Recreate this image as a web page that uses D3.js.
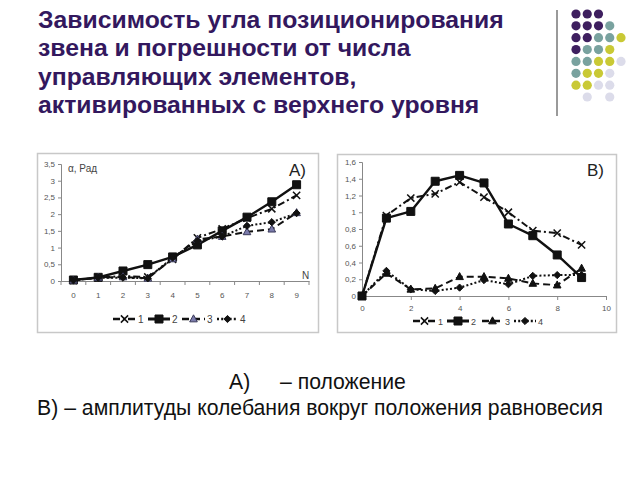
<!DOCTYPE html>
<html><head><meta charset="utf-8">
<script src="https://cdn.jsdelivr.net/npm/d3@7"></script>
<style>body{margin:0;background:#fff}svg{display:block}</style>
</head><body>
<svg id="c" width="640" height="480"></svg>
<script>
// ---------- data ----------
const titleLines = ["Зависимость угла позиционирования","звена и погрешности от числа","управляющих элементов,","активированных с верхнего уровня"];
const captionA = ["А)", "– положение"];
const captionB = "В) – амплитуды колебания вокруг положения равновесия";
const seriesNames = ["1","2","3","4"];
const categoriesA = [0,1,2,3,4,5,6,7,8,9];
const a1 = [0.02,0.10,0.15,0.12,0.65,1.29,1.56,1.88,2.16,2.56];
const a2 = [0.03,0.11,0.30,0.49,0.72,1.08,1.50,1.91,2.37,2.88];
const a3 = [0.02,0.10,0.12,0.08,0.66,1.25,1.33,1.47,1.55,2.04];
const a4 = [0.02,0.10,0.10,0.08,0.70,1.20,1.33,1.65,1.76,2.03];
const yTicksA = [0,0.5,1,1.5,2,2.5,3,3.5];
const xB = [0,1,2,3,4,5,6,7,8,9];
const b1 = [0.00,0.96,1.17,1.22,1.36,1.18,1.00,0.78,0.75,0.61];
const b2 = [0.00,0.93,1.01,1.37,1.44,1.35,0.86,0.72,0.49,0.22];
const b3 = [0.00,0.27,0.08,0.09,0.23,0.23,0.21,0.15,0.13,0.33];
const b4 = [0.00,0.30,0.08,0.06,0.10,0.19,0.14,0.24,0.25,0.25];
const yTicksB = [0,0.2,0.4,0.6,0.8,1,1.2,1.4,1.6];
const xTicksB = [0,2,4,6,8,10];
// decorative dot grid: rows of colour codes (p=purple,t=teal,y=yellow,l=lavender, .=empty)
const dotRows = ["ppp","pppt","pptty","ptty","ttyyl","tyyl","yyll",".l.l"];
const dotColors = {p:"#3e1f5f",t:"#79a29f",y:"#c9c935",l:"#dcdcea"};

// ---------- drawing ----------
const svg = d3.select("#c");
const fmt = v => String(v).replace(".", ",");
const font = "Liberation Sans, Arial, sans-serif";

function fit(sel, target){
  const fs = parseFloat(sel.attr("font-size"));
  const w = sel.node().getComputedTextLength();
  sel.attr("font-size", (fs*target/w).toFixed(2));
}

// title
const tl = svg.append("g");
titleLines.forEach((t,i)=>{
  const s = tl.append("text").attr("x",38).attr("y",28+i*28.4)
    .attr("font-family",font).attr("font-weight","bold").attr("font-size",24)
    .attr("fill","#33185e").text(t);
  if(i===0) fit(s,466);
});
const tfs = tl.select("text").attr("font-size");
tl.selectAll("text").attr("font-size",tfs);

// decorative
svg.append("line").attr("x1",557).attr("x2",557).attr("y1",10).attr("y2",116)
  .attr("stroke","#9a9a9a").attr("stroke-width",2);
const colX = d3.scaleLinear().domain([0,4]).range([576,621]);
const rowY = d3.scaleLinear().domain([0,7]).range([14,97]);
dotRows.forEach((row,r)=>{
  row.split("").forEach((c,k)=>{
    if(c===".") return;
    svg.append("circle").attr("cx",colX(k)).attr("cy",rowY(r)).attr("r",4.6).attr("fill",dotColors[c]);
  });
});

// marker paths
const mk = {
  x: s=>`M${-s},${-s}L${s},${s}M${-s},${s}L${s},${-s}`,
  sq: s=>`M${-s},${-s}H${s}V${s}H${-s}Z`,
  tri: s=>`M0,${-s*1.1}L${s},${s*0.75}L${-s},${s*0.75}Z`,
  dia: s=>`M0,${-s}L${s},0L0,${s}L${-s},0Z`
};
function styles(panel){
  return [
    {dash:"7,3,2,3", w:2, m:"x", size:3.6, fill:"none", mstroke:"#111", mw:1.5},
    {dash:null, w:2.4, m:"sq", size:4, fill:"#111", mstroke:"#111", mw:1},
    {dash:"7,4", w:2, m:"tri", size:3.8, fill: panel==="A"?"#7b7bab":"#111", mstroke: panel==="A"?"#3a3a5a":"#111", mw:1},
    {dash:"2,2.2", w:2, m:"dia", size:3.6, fill:"#111", mstroke:"#111", mw:1}
  ];
}

function drawSeries(g, data, xf, yf, st){
  const line = d3.line().x((d,i)=>xf(i)).y(d=>yf(d));
  g.append("path").datum(data).attr("d",line).attr("fill","none")
    .attr("stroke","#111").attr("stroke-width",st.w)
    .attr("stroke-dasharray",st.dash).attr("stroke-linejoin","round");
  g.selectAll(null).data(data).join("path")
    .attr("transform",(d,i)=>`translate(${xf(i)},${yf(d)})`)
    .attr("d",mk[st.m](st.size)).attr("fill",st.fill)
    .attr("stroke",st.mstroke).attr("stroke-width",st.mw);
}

function legend(g, y, items, st, fs){
  items.forEach((it,i)=>{
    const s = st[i];
    g.append("line").attr("x1",it[0]).attr("x2",it[1]).attr("y1",y).attr("y2",y)
      .attr("stroke","#111").attr("stroke-width",s.w+0.6).attr("stroke-dasharray",s.dash);
    g.append("path").attr("transform",`translate(${(it[0]+it[1])/2},${y})`)
      .attr("d",mk[s.m](s.size)).attr("fill",s.fill).attr("stroke",s.mstroke).attr("stroke-width",s.mw);
    g.append("text").attr("x",it[1]+2).attr("y",y+3.5).attr("font-family",font)
      .attr("font-size",fs).attr("fill","#444").text(seriesNames[i]);
  });
}

// ---------- Panel A ----------
const gA = svg.append("g");
gA.append("rect").attr("x",37.5).attr("y",153.5).attr("width",281).attr("height",179)
  .attr("fill","#fff").attr("stroke","#c8c8c8").attr("stroke-width",1.5);
const xA = d3.scaleBand().domain(categoriesA).range([61,309]);
const xAc = i => xA(categoriesA[i]) + xA.bandwidth()/2;
const yA = d3.scaleLinear().domain([0,3.5]).range([281,164]);
const axYA = gA.append("g").attr("transform","translate(61,0)")
  .call(d3.axisLeft(yA).tickValues(yTicksA).tickSize(3).tickFormat(fmt));
const axXA = gA.append("g").attr("transform","translate(0,281)")
  .call(d3.axisBottom(xA).tickSize(0).tickPadding(11));
// tick marks between categories
gA.selectAll(null).data(d3.range(categoriesA.length+1)).join("line")
  .attr("x1",d=>61+d*xA.step()).attr("x2",d=>61+d*xA.step()).attr("y1",281).attr("y2",285)
  .attr("stroke","#888");
[axYA,axXA].forEach(a=>{
  a.selectAll("path,line").attr("stroke","#888");
  a.selectAll("text").attr("font-family",font).attr("font-size",8).attr("fill","#555");
});
gA.append("text").attr("x",68).attr("y",171.5).attr("font-family",font).attr("font-size",10).attr("fill","#444").text("α, Рад");
gA.append("text").attr("x",302).attr("y",279).attr("font-family",font).attr("font-size",10).attr("fill","#444").text("N");
gA.append("text").attr("x",289).attr("y",176).attr("font-family",font).attr("font-size",17).attr("fill","#222").text("A)");
const stA = styles("A");
[a1,a2,a3,a4].forEach((d,i)=>drawSeries(gA,d,xAc,yA,stA[i]));
legend(gA,319,[[113,136],[148,170],[182,205],[217,238]],stA,10);

// ---------- Panel B ----------
const gB = svg.append("g");
gB.append("rect").attr("x",337.5).attr("y",154.5).attr("width",279).attr("height",178)
  .attr("fill","#fff").attr("stroke","#c8c8c8").attr("stroke-width",1.5);
const xBs = d3.scaleLinear().domain([0,10]).range([362,606]);
const yB = d3.scaleLinear().domain([0,1.6]).range([296,162]);
const axYB = gB.append("g").attr("transform","translate(362,0)")
  .call(d3.axisLeft(yB).tickValues(yTicksB).tickSize(3).tickFormat(fmt));
const axXB = gB.append("g").attr("transform","translate(0,296)")
  .call(d3.axisBottom(xBs).tickValues(xTicksB).tickSize(4).tickPadding(5).tickFormat(fmt));
[axYB,axXB].forEach(a=>{
  a.selectAll("path,line").attr("stroke","#888");
  a.selectAll("text").attr("font-family",font).attr("font-size",8).attr("fill","#555");
});
gB.append("text").attr("x",587).attr("y",176).attr("font-family",font).attr("font-size",17).attr("fill","#222").text("B)");
const stB = styles("B");
[b1,b2,b3,b4].forEach((d,i)=>drawSeries(gB,d,i2=>xBs(xB[i2]),yB,stB[i]));
legend(gB,321,[[413,436],[447,469],[482,503],[514,536]],stB,9);

// ---------- captions ----------
const c2 = svg.append("text").attr("x",320).attr("y",415).attr("text-anchor","middle")
  .attr("font-family",font).attr("font-size",19).attr("fill","#111").text(captionB);
fit(c2,566);
const cfs = c2.attr("font-size");
svg.append("text").attr("x",229).attr("y",389).attr("font-family",font).attr("font-size",cfs).attr("fill","#111").text(captionA[0]);
svg.append("text").attr("x",280).attr("y",389).attr("font-family",font).attr("font-size",cfs).attr("fill","#111").text(captionA[1]);
</script>
</body></html>
